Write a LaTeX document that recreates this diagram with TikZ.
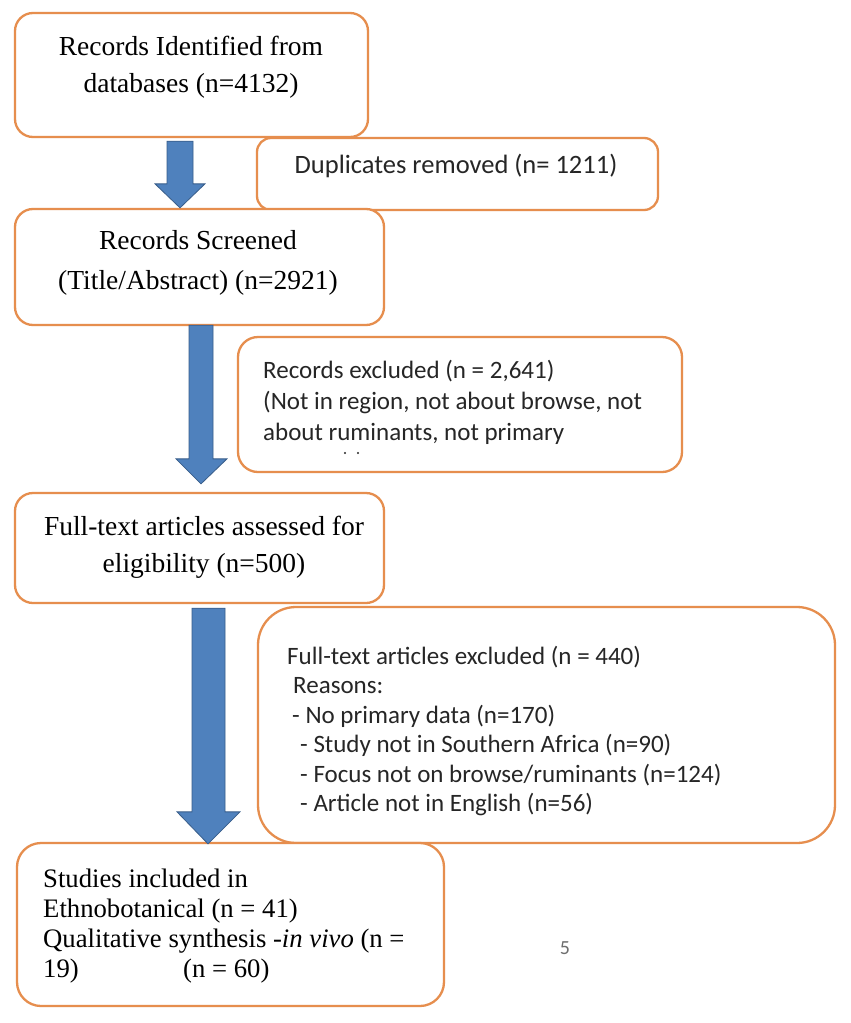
\documentclass[tikz,border=0pt]{standalone}
\usepackage{fontspec}
\setmainfont{Liberation Serif}
\newfontfamily\calib{Carlito}
\usetikzlibrary{calc}
\definecolor{boxorange}{RGB}{230,142,78}
\definecolor{arrowblue}{RGB}{79,129,189}
\definecolor{arrowedge}{RGB}{56,93,138}
\definecolor{sanstext}{RGB}{38,38,38}
\definecolor{pagegrey}{RGB}{110,110,110}
\begin{document}
\begin{tikzpicture}[x=1pt,y=-1pt,
  box/.style={draw=boxorange, line width=2.3pt, fill=white, rectangle, inner sep=0pt},
  blockarrow/.style={fill=arrowblue, draw=arrowedge, line width=0.8pt, line join=miter},
  seriftxt/.style={font={\fontsize{27.5}{37}\selectfont}, align=center, inner sep=0pt},
  seriflist/.style={font={\fontsize{26.7}{30}\selectfont}, align=left, inner sep=0pt},
  sanstxt/.style={font={\calib\fontsize{25}{29.5}\selectfont}, text=sanstext, align=left, inner sep=0pt}]
\useasboundingbox (0,0) rectangle (851,1023);
\fill[white] (0,0) rectangle (851,1023);

% boxes
\node[box, rounded corners=18pt, minimum width=353pt, minimum height=124pt] (b1) at (191.5,75) {};
\node[box, rounded corners=14pt, minimum width=401pt, minimum height=72pt] (dup) at (457.5,174) {};
\node[box, rounded corners=18pt, minimum width=369pt, minimum height=116pt] (b2) at (199.5,267) {};
\node[box, rounded corners=20pt, minimum width=444pt, minimum height=135pt] (rex) at (460,404.5) {};
\node[box, rounded corners=18pt, minimum width=369pt, minimum height=110pt] (b3) at (199.5,548) {};
\node[box, rounded corners=38pt, minimum width=577pt, minimum height=236pt] (fex) at (546.5,725) {};
\node[box, rounded corners=24pt, minimum width=427pt, minimum height=163pt] (b4) at (230.5,924.5) {};

% texts
\node[seriftxt] (t1) at (191,67) {Records Identified from\\databases (n=4132)};
\node[sanstxt, font={\calib\fontsize{26.5}{30}\selectfont}] (tdup) at (456,166) {Duplicates removed (n= 1211)};
\node[seriftxt, font={\fontsize{27.5}{40}\selectfont}] (t2) at (198,263) {Records Screened\\(Title/Abstract) (n=2921)};
\node[sanstxt, font={\calib\fontsize{25}{31}\selectfont}, anchor=west] (trex) at (263,402) {Records excluded (n = 2,641)\\(Not in region, not about browse, not\\about ruminants, not primary};
\node[seriftxt] (t3) at (204,547) {Full-text articles assessed for\\eligibility (n=500)};
\node[sanstxt, anchor=west] (tfex) at (287,731) {Full-text articles excluded (n = 440)\\
\hspace*{6pt}Reasons:\\
\hspace*{5pt}- No primary data (n=170)\\
\hspace*{13pt}- Study not in Southern Africa (n=90)\\
\hspace*{13pt}- Focus not on browse/ruminants (n=124)\\
\hspace*{13pt}- Article not in English (n=56)};
\node[seriflist, anchor=west] (t4) at (43,926) {Studies included in\\Ethnobotanical (n = 41)\\Qualitative synthesis -\textit{in vivo} (n =\\\makebox[140pt][l]{19)}(n = 60)};
\node[font={\calib\fontsize{20}{24}\selectfont}, text=pagegrey, inner sep=0pt] (pg) at (565,948) {5};

% clipped remnants of the fourth line in the excluded-records box
\fill[sanstext] (345,453) circle (1.1pt) (358,453) circle (1.1pt);

% block arrows
\path[blockarrow] let \p1=(b1.south), \p2=(b2.north) in
  (167pt,\y1-3pt) -- (193pt,\y1-3pt) -- (193pt,\y2+24pt) -- (205pt,\y2+24pt)
  -- (180pt,\y2) -- (155pt,\y2+24pt) -- (167pt,\y2+24pt) -- cycle;
\path[blockarrow] let \p1=(b2.south), \p2=(b3.north) in
  (189pt,\y1+1pt) -- (213pt,\y1+1pt) -- (213pt,\y2+33pt) -- (227pt,\y2+33pt)
  -- (201pt,\y2+8pt) -- (176pt,\y2+33pt) -- (189pt,\y2+33pt) -- cycle;
\path[blockarrow] let \p1=(b3.south), \p2=(b4.north) in
  (192pt,\y1-4pt) -- (225pt,\y1-4pt) -- (225pt,\y2+30pt) -- (240pt,\y2+30pt)
  -- (208pt,\y2-2pt) -- (177pt,\y2+30pt) -- (192pt,\y2+30pt) -- cycle;
\end{tikzpicture}
\end{document}
